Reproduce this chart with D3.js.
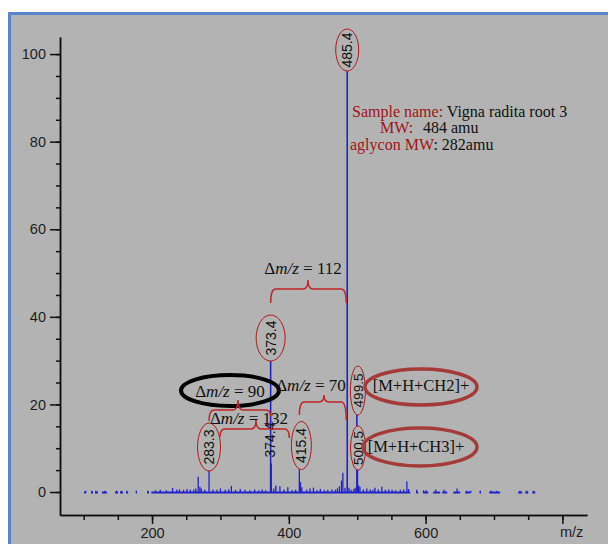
<!DOCTYPE html>
<html>
<head>
<meta charset="utf-8">
<script src="https://cdn.jsdelivr.net/npm/d3@7"></script>
<style>
  html, body { margin: 0; padding: 0; background: #fff; }
  svg { display: block; }
</style>
</head>
<body>
<div id="chart"></div>
<script>
// spectrum sticks [m/z, relative intensity]
const peaks = [
  [103, 0.3], [112, 0.3], [118, 0.3], [131, 0.3], [148, 0.3], [155, 0.3], [163, 0.3], [177, 0.3], [194, 0.3],
  [205, 0.4], [212, 0.5], [221, 0.4], [230, 0.9], [236, 0.5], [240, 0.6], [246, 0.5], [251, 0.7], [256, 0.5],
  [261, 0.6], [264, 0.8], [267.5, 3.5], [270, 1.2], [272, 0.8], [277, 0.5], [283.3, 5.3], [289, 0.6], [295, 0.5],
  [300, 0.8], [307, 0.5], [312, 0.6], [316, 1.4], [322, 0.5], [329, 0.7], [336, 0.5], [343, 0.4], [350, 0.6],
  [356, 0.4], [361, 0.6], [366, 0.4], [373.4, 30], [374.4, 6.5], [378, 0.8], [381, 1.5], [387, 1.3], [393, 0.6],
  [398.5, 1.1], [405, 0.4], [410, 0.5], [415.4, 5.2], [417, 2.3], [419, 1.1], [426, 0.5], [431, 0.8], [436, 1.0],
  [441, 0.4], [446, 0.7], [452, 0.4], [457, 0.5], [463, 0.6], [468, 0.5], [471, 0.8], [474, 1.3], [477, 2.6],
  [479, 4.4], [482, 1.0], [485.4, 100], [488, 1.0], [491, 0.5], [495, 0.7], [497, 1.0], [499.5, 18], [500.5, 8],
  [502, 1.5], [504, 1.2], [509, 0.6], [514, 0.8], [519, 0.6], [523, 0.5], [526, 1.0], [531, 0.6], [536, 1.2],
  [541, 0.5], [546, 0.6], [551, 0.5], [556, 0.4], [563, 0.5], [568, 0.6], [572.6, 2.4], [575, 0.7], [587, 0.5],
  [597, 0.4], [601, 0.4], [615, 0.6], [627, 0.5], [646, 0.8], [660, 0.3], [666, 0.3], [680, 0.3], [696, 0.3],
  [704, 0.3], [738, 0.3], [748, 0.3], [758, 0.3]
];

// stretches of baseline trace [m/z start, m/z end]
const baselineRuns = [
  [100.5, 103.4], [110.8, 113.7], [116.6, 121], [126.8, 134.2], [145.9, 150.3], [153.2, 157.6], [162, 165],
  [176.6, 178], [192.7, 195.6], [199, 577.5], [586.3, 589.2], [596.5, 603.8], [611, 621.4], [624.3, 631.6],
  [640.4, 650.6], [657.9, 665.3], [679, 681], [693, 709], [735.5, 741.3], [745.7, 750.1], [756, 760.4]
];

const peakLabels = ['485.4', '373.4', '374.4', '283.3', '415.4', '499.5', '500.5'];
const deltas = [
  { from: 373.4, to: 485.4, text: '112' },
  { from: 283.3, to: 373.4, text: '90' },
  { from: 283.3, to: 415.4, text: '132' },
  { from: 415.4, to: 485.4, text: '70' }
];
const adducts = [
  { mz: 499.5, text: '[M+H+CH2]+' },
  { mz: 500.5, text: '[M+H+CH3]+' }
];
const sampleInfo = [
  ['Sample name: ', 'Vigna radita root 3'],
  ['MW: ', '484 amu'],
  ['aglycon MW', ': 282amu']
];

const xMajor = [200, 400, 600, 800];
const xMinor = d3.range(100, 801, 50);
const yMajor = [0, 20, 40, 60, 80, 100];
const yMinor = d3.range(0, 101, 5);

const width = 608;
const height = 544;
const sans = '"Liberation Sans", Arial, sans-serif';
const serif = '"Liberation Serif", "Times New Roman", serif';
const panelGray = '#b3b3b3';
const blue = '#2222cc';
const red = '#be2428';

const svg = d3.select('#chart').append('svg').attr('width', width).attr('height', height);

svg.append('rect')
  .attr('x', 9.5).attr('y', 13.5)
  .attr('width', width + 10).attr('height', height + 10)
  .style('fill', panelGray)
  .style('stroke', '#5b85c6')
  .style('stroke-width', 3);

const x = d3.scaleLinear().domain([65.4, 836]).range([60, 587]);
const y = d3.scaleLinear().domain([-5.25, 103.9]).range([515, 37]);

// spectrum
const spec = svg.append('g');
spec.selectAll('line.run')
  .data(baselineRuns)
  .enter()
  .append('line')
  .attr('class', 'run')
  .attr('x1', d => x(d[0]))
  .attr('x2', d => x(d[1]))
  .attr('y1', y(0) + 0.5)
  .attr('y2', y(0) + 0.5)
  .style('stroke', blue)
  .style('stroke-width', 2);

spec.selectAll('line.peak')
  .data(peaks)
  .enter()
  .append('line')
  .attr('class', 'peak')
  .attr('x1', d => x(d[0]))
  .attr('x2', d => x(d[0]))
  .attr('y1', y(0) + 1)
  .attr('y2', d => y(d[1]))
  .style('stroke', blue)
  .style('stroke-width', d => (d[1] > 10 ? 1.6 : 1.3));

// axes
const yAxisMinor = d3.axisLeft(y).tickValues(yMinor).tickSize(4).tickSizeOuter(0).tickFormat('');
const yAxis = d3.axisLeft(y).tickValues(yMajor).tickSize(10).tickSizeOuter(0).tickPadding(4);
const xAxisMinor = d3.axisBottom(x).tickValues(xMinor).tickSize(5).tickSizeOuter(0).tickFormat('');
const xAxis = d3.axisBottom(x).tickValues(xMajor).tickSize(9).tickSizeOuter(0).tickPadding(4)
  .tickFormat(d => (d === 800 ? '' : d));

[[yAxisMinor, 'y'], [yAxis, 'y'], [xAxisMinor, 'x'], [xAxis, 'x']].forEach(([ax, k]) => {
  const g = svg.append('g')
    .attr('transform', k === 'y' ? 'translate(60,0)' : 'translate(0,515)')
    .call(ax);
  g.selectAll('path, line').style('stroke', '#111').style('stroke-width', 1.5);
  g.selectAll('text').style('font-family', sans).style('font-size', '14.5px').style('fill', '#1e1e1e');
});

svg.append('text')
  .attr('x', 560).attr('y', 537)
  .style('font-family', sans).style('font-size', '14.5px').style('fill', '#1e1e1e')
  .text('m/z');

// peak labels in ellipses
const labelLayout = {
  '485.4': { cy: 50, rx: 11.5, ry: 21, dx: 0 },
  '373.4': { cy: 338, rx: 14.5, ry: 23, dx: 0 },
  '374.4': { cy: 440, dx: -1 },
  '283.3': { cy: 447, rx: 11.5, ry: 24, dx: 0 },
  '415.4': { cy: 445.5, rx: 10, ry: 24, dx: 2 },
  '499.5': { cy: 390.5, rx: 7.5, ry: 24.5, dx: 1 },
  '500.5': { cy: 448, rx: 7.5, ry: 22, dx: 0.5 }
};

peakLabels.forEach(lbl => {
  const lay = labelLayout[lbl];
  const cx = x(+lbl) + lay.dx;
  const g = svg.append('g').attr('transform', `translate(${cx},${lay.cy})`);
  if (lay.rx) {
    g.append('ellipse')
      .attr('rx', lay.rx).attr('ry', lay.ry)
      .style('fill', panelGray)
      .style('stroke', '#b0181c')
      .style('stroke-width', 1);
  }
  g.append('text')
    .attr('transform', 'rotate(-90)')
    .attr('text-anchor', 'middle')
    .attr('dy', '0.36em')
    .style('font-family', sans)
    .style('font-size', lbl === '499.5' || lbl === '500.5' ? '13.5px' : '14px')
    .style('fill', '#111')
    .text(lbl);
});

// braces for mass differences
const braceLayout = {
  '112': { x1: 0, x2: -1, line: 289, tip: 280, tipX: 308, end1: 303, end2: 303, tx: 303, ty: 274 },
  '90': { x1: 0, x2: 0, line: 410, tip: 400, tipX: 238, end1: 421, end2: 416, tx: 230, ty: 397 },
  '132': { x1: 11, x2: -10, line: 429, tip: 420, tipX: 256, end1: 437, end2: 438, tx: 249, ty: 424 },
  '70': { x1: 0, x2: -1, line: 402, tip: 395, tipX: 324, end1: 415, end2: 420, tx: 311, ty: 391 }
};

const bracePath = (x1, x2, b) => {
  const r = 5;
  return `M${x1},${b.end1} Q${x1},${b.line} ${x1 + r},${b.line} L${b.tipX - r},${b.line} ` +
    `Q${b.tipX},${b.line} ${b.tipX},${b.tip} Q${b.tipX},${b.line} ${b.tipX + r},${b.line} ` +
    `L${x2 - r},${b.line} Q${x2},${b.line} ${x2},${b.end2}`;
};

// black ring around the 90 label
svg.append('ellipse')
  .attr('cx', 230).attr('cy', 390.5).attr('rx', 49).attr('ry', 15.5)
  .style('fill', 'none').style('stroke', '#000').style('stroke-width', 4);

deltas.forEach(d => {
  const b = braceLayout[d.text];
  svg.append('path')
    .attr('d', bracePath(x(d.from) + b.x1, x(d.to) + b.x2, b))
    .style('fill', 'none')
    .style('stroke', red)
    .style('stroke-width', 1.5);
  const t = svg.append('text')
    .attr('x', b.tx).attr('y', b.ty)
    .attr('text-anchor', 'middle')
    .style('font-family', serif).style('font-size', '17px').style('fill', '#111');
  t.append('tspan').text('Δ');
  t.append('tspan').style('font-style', 'italic').text('m/z');
  t.append('tspan').text(' = ' + d.text);
});

// adduct labels
const adductLayout = {
  '[M+H+CH2]+': { cx: 421, cy: 387, rx: 56, ry: 18, tx: 421, ty: 391 },
  '[M+H+CH3]+': { cx: 420, cy: 447, rx: 57, ry: 19, tx: 416, ty: 452 }
};
adducts.forEach(a => {
  const lay = adductLayout[a.text];
  svg.append('ellipse')
    .attr('cx', lay.cx).attr('cy', lay.cy).attr('rx', lay.rx).attr('ry', lay.ry)
    .style('fill', 'none').style('stroke', '#a53a3a').style('stroke-width', 3.5);
  svg.append('text')
    .attr('x', lay.tx).attr('y', lay.ty)
    .attr('text-anchor', 'middle')
    .style('font-family', serif).style('font-size', '16.5px').style('fill', '#111')
    .text(a.text);
});

// sample info block
const infoPos = [[352, 117, null], [380, 133, 423], [350, 150, null]];
sampleInfo.forEach((row, i) => {
  const t = svg.append('text')
    .attr('x', infoPos[i][0]).attr('y', infoPos[i][1])
    .style('font-family', serif).style('font-size', '16px');
  t.append('tspan').style('fill', '#a01418').text(row[0]);
  const rest = t.append('tspan').style('fill', '#111').text(row[1]);
  if (infoPos[i][2]) rest.attr('x', infoPos[i][2]);
});
</script>
</body>
</html>
